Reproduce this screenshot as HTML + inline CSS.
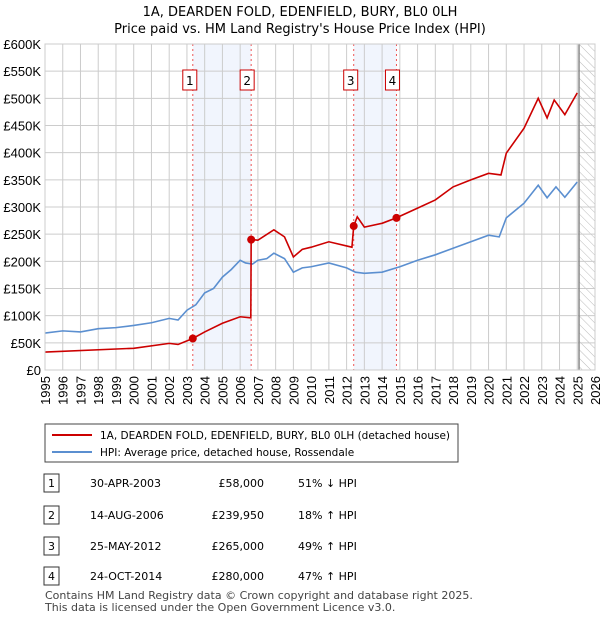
<!DOCTYPE html>
<html><head><meta charset="utf-8"><style>
body{margin:0;background:#fff;font-family:"Liberation Sans",sans-serif;color:#222}
svg text{font-family:"Liberation Sans",sans-serif}
svg text.dv{font-family:"DejaVu Sans","Liberation Sans",sans-serif}
</style></head><body>
<svg width="600" height="620">
<defs><pattern id="hatch" width="6" height="6" patternUnits="userSpaceOnUse" patternTransform="rotate(-45)"><line x1="0" y1="0" x2="0" y2="6" stroke="#bbb" stroke-width="1"/></pattern></defs>
<g id="plot"></g>
</svg>
<script>
const hpiYears=[1995,1996,1997,1998,1999,2000,2001,2002,2002.5,2003,2003.5,2004,2004.5,2005,2005.5,2006,2006.3,2006.7,2007,2007.5,2007.9,2008.5,2009,2009.5,2010,2011,2012,2012.5,2013,2014,2015,2016,2017,2018,2019,2020,2020.6,2021,2022,2022.8,2023.3,2023.8,2024.3,2025];
const hpiValues=[68,72,70,76,78,82,87,95,92,110,120,142,150,171,185,202,197,195,202,205,215,205,180,188,190,197,188,180,178,180,190,202,212,224,236,248,245,280,307,340,317,337,318,346];
const paidYears=[1995,2000,2002,2002.5,2003.33,2004,2005,2006,2006.6,2006.62,2007,2007.9,2008.5,2009,2009.5,2010,2011,2012.3,2012.4,2012.6,2013,2014,2014.8,2016,2017,2018,2019,2020,2020.7,2021,2022,2022.8,2023.3,2023.7,2024.3,2025];
const paidValues=[33,40,49,47,58,70,86,98,96,240,239,258,245,208,222,226,236,226,265,282,263,270,280,298,313,337,350,362,359,399,445,500,464,497,470,510];
const sales=[{n:"1",yr:2003.33,v:58},{n:"2",yr:2006.62,v:239.95},{n:"3",yr:2012.4,v:265},{n:"4",yr:2014.81,v:280}];
const yTicks=[0,50,100,150,200,250,300,350,400,450,500,550,600];
const xTicks=[1995,1996,1997,1998,1999,2000,2001,2002,2003,2004,2005,2006,2007,2008,2009,2010,2011,2012,2013,2014,2015,2016,2017,2018,2019,2020,2021,2022,2023,2024,2025,2026];
const X0=45,X1=595,Y0=370,Y1=44;
const sx=y=>X0+(y-1995)/31*(X1-X0);
const sy=v=>Y0-v/600*(Y0-Y1);
const NS="http://www.w3.org/2000/svg";
const g=document.getElementById('plot');
function el(t,a,p){const e=document.createElementNS(NS,t);for(const k in a)e.setAttribute(k,a[k]);(p||g).appendChild(e);return e;}
function txt(x,y,s,a){const e=el('text',Object.assign({x:x,y:y},a));e.textContent=s;return e;}
let t=txt(300,16,"1A, DEARDEN FOLD, EDENFIELD, BURY, BL0 0LH",{"text-anchor":"middle","font-size":"13",class:"dv"});

t=txt(300,33,"Price paid vs. HM Land Registry's House Price Index (HPI)",{"text-anchor":"middle","font-size":"13",class:"dv"});

for(const [a,b] of [[0,1],[2,3]]){const r=el('rect',{x:sx(sales[a].yr),y:Y1,width:sx(sales[b].yr)-sx(sales[a].yr),height:Y0-Y1,fill:"#f1f5fd"});
}
let h=el('rect',{x:sx(2025.1),y:Y1,width:X1-sx(2025.1),height:Y0-Y1,fill:"url(#hatch)"});

yTicks.forEach(v=>{const l=el('line',{x1:X0,x2:X1,y1:sy(v),y2:sy(v),stroke:"#ccc"});
const tt=txt(X0-4,sy(v)+5,v==0?"£0":"£"+v+"K",{"text-anchor":"end","font-size":"13"});});
xTicks.forEach(y=>{const l=el('line',{x1:sx(y),x2:sx(y),y1:Y1,y2:Y0,stroke:"#ccc"});
const tt=txt(0,0,String(y),{"text-anchor":"end","font-size":"13",transform:`translate(${sx(y)+5},${Y0+6}) rotate(-90)`});});
let ed=el('line',{x1:sx(2025.1),x2:sx(2025.1),y1:Y1,y2:Y0,stroke:"#888","stroke-width":1.5});

sales.forEach(s=>{const l=el('line',{x1:sx(s.yr),x2:sx(s.yr),y1:Y1,y2:Y0,stroke:"#e55","stroke-dasharray":"2,3"});
const left=(s.n=="1"||s.n=="3");
const r=el('rect',{x:left?sx(s.yr)-10:sx(s.yr)-11,y:70,width:14,height:20,fill:"#fff",stroke:"#c00"});

const tt=txt(+r.getAttribute('x')+7,85,s.n,{"text-anchor":"middle","font-size":"12",class:"dv"});});
function line(xs,vs,col,name){const p=el('polyline',{points:xs.map((x,i)=>sx(x)+","+sy(vs[i])).join(" "),fill:"none",stroke:col,"stroke-width":1.6});}
line(hpiYears,hpiValues,"#5b8fd0","hpi-line");
line(paidYears,paidValues,"#c00","price-paid-line");
sales.forEach(s=>{const c=el('circle',{cx:sx(s.yr),cy:sy(s.v),r:4,fill:"#c00"});});
let fr=el('rect',{x:X0,y:Y1,width:X1-X0,height:Y0-Y1,fill:"none",stroke:"#ccc"});
let lg=el('rect',{x:45,y:424,width:413,height:38,fill:"#fff",stroke:"#444"});
let l1=el('line',{x1:52,x2:92,y1:435,y2:435,stroke:"#c00","stroke-width":2});
t=txt(100,439,"1A, DEARDEN FOLD, EDENFIELD, BURY, BL0 0LH (detached house)",{"font-size":"10.5",class:"dv"});
let l2=el('line',{x1:52,x2:92,y1:452,y2:452,stroke:"#5b8fd0","stroke-width":2});
t=txt(100,456,"HPI: Average price, detached house, Rossendale",{"font-size":"10.5",class:"dv"});
const rows=[["1","30-APR-2003","£58,000","51% ↓ HPI",483],["2","14-AUG-2006","£239,950","18% ↑ HPI",515],["3","25-MAY-2012","£265,000","49% ↑ HPI",546],["4","24-OCT-2014","£280,000","47% ↑ HPI",576]];
rows.forEach(r=>{const b=el('rect',{x:44,y:r[4]-9,width:15,height:18,fill:"#fff",stroke:"#333"});
let a=txt(51.5,r[4]+4,r[0],{"text-anchor":"middle","font-size":"11",class:"dv"});
a=txt(90,r[4]+4,r[1],{"font-size":"11",class:"dv"});
a=txt(264,r[4]+4,r[2],{"text-anchor":"end","font-size":"11",class:"dv"});
a=txt(298,r[4]+4,r[3],{"font-size":"11",class:"dv"});});
t=txt(45,599,"Contains HM Land Registry data © Crown copyright and database right 2025.",{"font-size":"11",fill:"#444",class:"dv"});
t=txt(45,611,"This data is licensed under the Open Government Licence v3.0.",{"font-size":"11",fill:"#444",class:"dv"});
</script>
</body></html>
